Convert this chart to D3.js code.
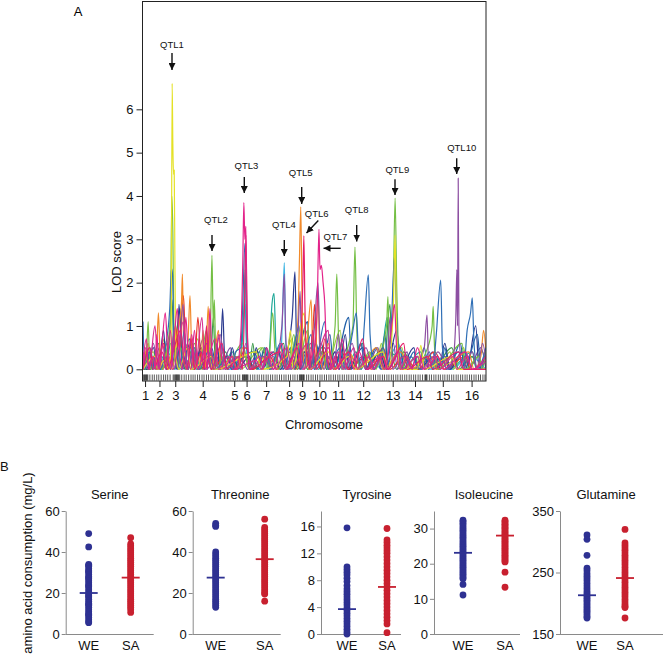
<!DOCTYPE html>
<html><head><meta charset="utf-8">
<script src="https://cdn.jsdelivr.net/npm/d3@7"></script>
<style>body{margin:0;background:#fff} svg{display:block;font-family:"Liberation Sans",Arial,sans-serif}</style>
</head><body><svg id="c" width="665" height="657"></svg>
<script>
// ---------- Panel A data (genome position 0-1000, LOD) ----------
const chrPositions = [6,48,94,174,266,302,359,426,464,514,569,642,728,793,874,958];
const chrLabels = ["1","2","3","4","5","6","7","8","9","10","11","12","13","14","15","16"];
const lodTicks = [0,1,2,3,4,5,6];
const markers = [2,4,6,8,10,12,14,20,27,33,40,46,53,60,66,72,79,88,91,94,96,98,100,102,104,107,113,120,126,133,140,146,152,159,165,172,178,185,191,198,204,211,217,224,230,237,243,250,256,263,269,276,282,290,292,294,296,298,300,302,304,306,313,320,326,333,339,346,352,359,365,372,378,385,391,398,404,411,417,424,430,437,443,450,456,458,460,462,464,466,468,470,477,483,490,496,503,509,516,522,529,535,542,548,555,561,568,574,581,587,594,600,607,613,620,626,633,639,646,652,659,665,672,678,685,691,698,704,711,717,724,730,737,743,750,756,763,769,776,782,789,795,802,808,815,822,824,826,828,835,841,848,854,861,867,874,880,887,893,900,906,913,919,926,932,939,945,952,958,965,971,978,984,991,997];

const cyanLOD = [[0,0],[25,0.3],[50,0],[85,0.4],[100,0],[150,0.3],[175,0],[210,0.3],[250,0],[285,0.4],[298,1.5],[303,0.3],[340,0],[380,0.3],[400,0],[407,1.3],[412,2.46],[416,0.6],[430,0],[470,0.4],[500,0],[550,0.3],[600,0],[650,0.3],[700,0],[745,0.6],[760,0],[800,0.3],[840,0],[880,0.3],[900,0],[950,0.3],[1000,0]];
const tealLOD = [[0,0],[20,0.5],[35,0],[55,0.3],[68,0],[80,0.6],[92,0],[120,0.3],[132,0],[145,0.6],[155,0],[190,0.3],[200,0],[215,0.5],[230,0],[260,0.4],[280,0],[293,1.2],[298,2.3],[302,0.6],[320,0],[350,0.3],[362,0],[370,0.6],[376,1.5],[382,1.75],[388,0.5],[400,0.3],[420,0],[450,0.8],[458,0],[490,0.5],[510,0],[550,0.3],[562,0],[580,0.6],[595,0],[620,0.4],[635,0],[660,0.3],[672,0],[700,0.6],[712,1.2],[718,0.4],[740,0.3],[755,0],[810,0.4],[822,0],[880,0.3],[892,0],[960,0.4],[972,0],[1000,0]];
const oliveLOD = [[0,0],[30,0.4],[42,0],[62,0.7],[72,0],[95,0.6],[104,0],[128,0.5],[138,0],[160,0.7],[170,0],[195,0.5],[205,0],[235,0.4],[245,0],[275,0.3],[285,0],[345,0.5],[355,0],[390,0.3],[400,0],[435,0.7],[445,0],[470,0.5],[480,0],[525,0.4],[535,0],[575,0.9],[585,0],[610,0.3],[620,0],[670,0.4],[680,0],[695,0.6],[705,0],[755,0.5],[765,0],[795,0.3],[805,0],[855,0.3],[862,0],[895,0.4],[905,0],[935,0.5],[945,0],[990,0.4],[1000,0]];
const darkGreenLOD = [[0,0],[20,0],[45,0.6],[55,0],[75,0.5],[85,1.6],[90,0.4],[108,1.4],[113,0.3],[125,0],[140,0.4],[160,0],[198,0.3],[205,1.2],[210,0.3],[222,0],[240,0.4],[260,0],[300,0.3],[310,0],[320,0.6],[330,0],[360,0.5],[370,0],[410,0.6],[420,0],[460,0.4],[480,0],[520,0.5],[540,0],[580,0.3],[600,0],[640,0.6],[650,0],[690,0.4],[702,0],[720,1.5],[725,0.5],[740,0],[760,0.4],[790,0],[830,0.3],[845,0],[900,0.5],[920,0],[960,0.3],[975,0],[1000,0]];
const violetLOD = [[0,0],[18,0.4],[28,0],[48,0.5],[58,0],[75,0.3],[85,0],[140,0.5],[150,0],[175,0.7],[185,0],[215,0.3],[225,0],[255,0.5],[265,0],[290,0.2],[305,0],[335,0.4],[345,0],[365,0.3],[375,0],[395,0.5],[405,0],[440,0.3],[450,0],[490,0.6],[500,0],[530,0.5],[540,0],[560,0.4],[572,0],[595,0.5],[605,0],[640,0.3],[650,0],[685,0.5],[695,0],[730,0.6],[742,0],[770,0.4],[780,0],[800,0.3],[812,0],[845,0.4],[855,0],[880,0.3],[892,0],[940,0.4],[950,0],[985,0.5],[1000,0]];
const navyLOD = [[0,0.4],[10,0],[30,0.5],[45,0],[60,0.9],[68,0],[90,0.5],[98,0],[105,1.5],[112,0.4],[120,0],[130,0.6],[145,0],[170,0.5],[180,0],[200,0.4],[207,0],[215,0.6],[225,0],[232,1.4],[238,0.3],[248,0],[260,0.5],[275,0],[310,0.3],[320,0],[330,0.5],[345,0],[380,0.4],[400,0],[425,0.6],[435,1.2],[443,2.25],[448,0.5],[458,0],[470,0.4],[490,0],[520,0.6],[535,0],[560,0.4],[572,0],[590,0.8],[600,0],[640,0.5],[655,0],[690,0.4],[710,0],[740,0.9],[750,0],[790,0.5],[800,0],[850,0.3],[862,0],[880,0.6],[895,0],[930,0.4],[945,0],[970,1.0],[980,0],[1000,0.4]];
const redLOD = [[0,0],[25,0.3],[40,0],[60,0.6],[75,0],[95,1.0],[105,0.3],[118,1.7],[124,0.5],[132,0],[140,0.4],[150,0],[160,1.2],[168,0.3],[175,0],[185,0.6],[200,0],[240,0.3],[270,0],[300,0.5],[320,0],[370,0.3],[390,0],[430,0.4],[445,0],[470,0.9],[480,0.3],[490,0],[500,1.5],[507,0.4],[518,0],[530,0.7],[545,0],[580,0.4],[600,0],[650,0.3],[665,0],[700,0.5],[720,0],[760,0.3],[800,0],[850,0.4],[880,0],[940,0.3],[955,0],[1000,0]];
const blue2LOD = [[0,0],[12,0.45],[22,0],[38,0.3],[52,0],[70,0.6],[80,0],[100,0.5],[112,0],[135,0.7],[148,0],[168,0.4],[180,0],[200,0.5],[215,0],[245,0.3],[258,0],[280,0.2],[320,0.4],[335,0],[355,0.5],[368,0],[395,0.4],[410,0],[430,0.5],[440,0],[480,1.1],[486,0],[505,0.6],[520,0],[545,0.8],[556,0],[600,1.2],[608,0],[635,0.6],[648,0],[680,0.5],[692,0],[705,0.8],[715,0],[750,0.5],[762,0],[790,0.4],[800,0],[820,0.5],[832,0],[855,0.3],[868,0],[880,0.5],[892,0],[925,0.6],[938,0],[975,0.8],[985,0],[1000,0.3]];
const orangeLOD = [[0,0],[15,0.6],[25,0],[40,0.5],[45,1.3],[50,0.3],[58,0],[70,0.4],[85,0],[100,0.8],[112,1.5],[115,2.2],[118,0.8],[130,0.5],[137,1.7],[142,0.4],[150,0],[160,0.3],[168,0],[175,0.9],[182,0],[190,1.45],[196,0.3],[203,0],[210,0.4],[220,0.9],[227,0],[260,0.3],[275,0],[290,0.5],[310,0],[360,0.3],[372,0],[400,0.5],[420,0],[445,0.6],[452,1.2],[456,2.5],[460,3.75],[463,2.0],[466,0.5],[472,0],[480,0.8],[490,1.6],[495,0.4],[502,0],[510,1.8],[515,0.5],[525,0],[540,0.6],[555,0],[600,0.4],[630,0],[680,0.5],[700,0],[750,0.4],[780,0],[840,0.3],[855,0],[950,0.4],[965,0],[985,0.3],[993,0.9],[1000,0.4]];
const greenLOD = [[0,0.3],[8,0],[15,1.1],[20,0],[40,0.4],[55,0],[70,0.5],[80,1.2],[84,4.0],[87,3.2],[90,1.0],[95,0.3],[102,0],[110,0.5],[125,0],[150,0.6],[165,0],[185,0.9],[195,0.3],[201,2.63],[205,1.0],[208,1.6],[212,0.4],[220,0],[230,0.3],[240,0],[290,0.6],[310,0],[350,0.5],[365,0],[378,1.3],[385,0.4],[395,0],[410,0.3],[420,0],[440,0.8],[450,0],[480,0.9],[490,0],[520,0.4],[540,0],[560,1.0],[565,2.2],[570,0.8],[580,0],[600,0.6],[612,1.0],[618,2.82],[623,1.0],[630,0],[660,0.4],[675,0],[710,1.0],[714,1.68],[718,0.6],[728,1.2],[735,3.95],[740,1.8],[745,0.5],[755,0],[770,0.3],[785,0],[830,0.5],[843,1.0],[846,1.45],[850,0.5],[860,0],[930,0.6],[940,0],[980,0.3],[990,0],[1000,0.5]];
const blueLOD = [[0,1.1],[5,0],[20,0.4],[28,0],[35,0.3],[50,0],[65,0.5],[78,1.4],[83,2.33],[86,2.2],[90,0.8],[100,0.3],[108,0],[120,0.9],[130,0],[150,0.5],[165,0],[190,0.4],[210,0],[250,0.3],[262,0],[270,0.4],[285,0.5],[292,1.8],[297,2.9],[300,2.5],[304,0.8],[312,0],[340,0.4],[350,0],[360,0.5],[372,0],[400,0.6],[420,0],[440,0.5],[455,1.0],[462,0],[490,0.8],[500,0],[530,1.1],[540,0],[575,0.5],[590,0],[610,0.8],[622,1.3],[628,0.4],[636,0],[645,1.0],[657,2.18],[662,0.8],[675,0],[700,0.5],[712,0],[725,1.2],[733,2.6],[738,1.5],[745,0.4],[760,0],[780,0.3],[810,0],[835,0.4],[845,0],[855,0.8],[868,2.06],[873,0.5],[885,0],[920,0.4],[935,0],[945,0.9],[955,1.3],[960,1.65],[965,0.6],[975,0],[1000,0.5]];
const purpleLOD = [[0,0.3],[15,0],[30,0.6],[45,0],[70,0.3],[80,0],[90,0.9],[100,0],[117,1.5],[122,0.4],[132,0],[145,0.5],[160,0],[185,0.6],[200,0],[225,0.8],[240,0],[270,0.3],[285,0],[300,0.6],[315,0],[350,0.3],[380,0],[405,1.0],[412,2.2],[416,0.8],[425,0],[450,0.5],[458,1.8],[462,0.5],[470,0],[480,0.4],[490,0],[500,1.0],[510,2.0],[516,0.6],[528,0],[540,0.3],[555,0],[570,0.8],[580,0],[610,0.6],[625,0],[650,0.5],[670,0],[700,0.4],[710,0],[720,1.2],[728,0],[760,0.3],[790,0],[820,0.5],[828,1.25],[833,0],[860,0.4],[890,0],[905,0.3],[912,1.2],[915,2.3],[917,1.0],[919,4.41],[921,1.0],[930,0],[960,0.4],[975,0],[990,0.6],[1000,0.2]];
const yellowLOD = [[0,0],[35,0.3],[45,0],[60,0.2],[75,0],[82,0.6],[85,6.6],[87,5.2],[89,4.5],[91,4.6],[93,2.5],[96,0.3],[105,0],[130,0.5],[140,0],[200,0.3],[210,0],[330,0.4],[345,0],[420,0.3],[430,0.9],[437,0],[470,1.3],[476,0.3],[485,0],[540,0.4],[560,0],[600,0.3],[620,0],[700,0.4],[715,0],[730,1.5],[735,3.1],[739,1.0],[750,0],[800,0],[810,0.55],[820,0],[900,0.3],[915,0],[1000,0]];
const pinkLOD = [[0,0],[8,0.5],[18,0],[35,1.0],[44,0],[58,0.6],[66,0],[80,0.9],[88,0],[118,1.1],[128,0],[142,0.8],[152,0],[172,1.2],[180,0],[210,0.7],[220,0],[250,0.3],[262,0],[330,0.2],[345,0],[375,0.4],[385,0],[420,0.5],[432,0],[480,0.6],[490,0],[540,0.9],[548,0],[570,0.4],[585,0],[615,0.5],[625,0],[660,0.3],[672,0],[700,0.3],[712,0],[745,0.4],[755,0],[800,0.3],[815,0],[850,0.3],[865,0],[905,0.3],[915,0],[945,0.3],[960,0],[1000,0.2]];
const deepPinkLOD = [[0,0],[20,0.5],[30,0],[55,0.4],[70,0],[110,0.9],[118,0.3],[128,0],[140,0.7],[150,0],[170,0.4],[178,0],[185,1.0],[190,0.3],[198,0],[230,0.6],[245,0],[280,0.3],[290,0],[296,1.5],[300,3.1],[304,1.0],[310,0],[400,0.4],[415,0],[450,0.5],[458,0],[462,1.0],[466,2.0],[469,3.08],[472,1.5],[476,0.4],[485,0],[495,0.9],[505,0],[540,0.5],[560,0],[600,0.4],[615,0],[640,0.7],[655,0],[700,0.3],[715,0],[760,0.6],[770,0],[830,0.3],[845,0],[920,0.4],[935,0],[1000,0]];
const magentaLOD = [[0,0.2],[10,0.7],[16,0],[30,0.3],[36,0],[40,0.8],[48,0],[65,1.3],[72,0.4],[80,0],[90,0.6],[100,1.4],[106,0.5],[115,0],[125,1.2],[132,0.3],[140,0],[150,0.9],[160,0],[180,0.4],[188,0],[195,1.4],[201,0.3],[210,0],[220,0.8],[235,0],[260,0.3],[272,0],[285,0.8],[291,2.5],[294,3.85],[297,3.0],[300,3.3],[303,1.0],[310,0],[340,0.3],[350,0],[360,0.5],[380,0],[405,0.6],[420,0],[455,0.6],[465,0],[500,0.5],[508,1.5],[513,3.23],[516,2.3],[520,2.4],[525,2.0],[530,1.5],[535,0.4],[545,0],[560,0.3],[570,0],[580,0.7],[595,0],[630,0.4],[650,0],[690,0.3],[705,0],[725,1.0],[733,1.5],[740,0.4],[750,0],[770,0.3],[785,0],[800,0.5],[820,0],[860,0.3],[875,0],[940,0.4],[960,0],[1000,0.3]];

const lodSeries = [
  {values: cyanLOD, color: "#3ab3e2"},
  {values: tealLOD, color: "#1fa898"},
  {values: oliveLOD, color: "#9ccc3c"},
  {values: darkGreenLOD, color: "#3a9a4a"},
  {values: violetLOD, color: "#7b4aa0"},
  {values: navyLOD, color: "#2b3a8f"},
  {values: redLOD, color: "#e8352b"},
  {values: blue2LOD, color: "#1f5fa8"},
  {values: orangeLOD, color: "#f18a2b"},
  {values: greenLOD, color: "#74bf44"},
  {values: blueLOD, color: "#2f6fb6"},
  {values: purpleLOD, color: "#8d4fa2"},
  {values: yellowLOD, color: "#e4e125"},
  {values: pinkLOD, color: "#d6308f"},
  {values: deepPinkLOD, color: "#e61e6a"},
  {values: magentaLOD, color: "#e3238a"}
];

const qtlNames = ["QTL1","QTL2","QTL3","QTL4","QTL5","QTL6","QTL7","QTL8","QTL9","QTL10"];

// ---------- Panel B data ----------
const aminoAcids = ["Serine","Threonine","Tyrosine","Isoleucine","Glutamine"];
const groups = ["WE","SA"];
const serineWE = [49,42.5,34,33.5,33,32,31,30.5,30,29,28,27.5,27,26,25,24,23.5,23,22,21,20,19,18.5,18,17,16,15,14.5,14,13,12,11,10,9.5,9,8,7,6,5.5];
const serineSA = [47,44,43,42,41,40,39,38,37,36,35,34,33,32,31,30,29,28,27,26,25,24,23,22,21,20,19,18,17,16,15,14,13,12,10.5];
const threonineWE = [54,53,52.5,40,39,38,37,36,35,34,33,32,31,30,29,28,27,26,25,24,23,22,21,20,19,18,17,16,15,14,13];
const threonineSA = [56,52,51,50,49,48,47,46,45,44,43,42,41,40,39,38,37,36,35,34,33,32,31,30,29,28,27,26,25,24,23,22,21,20,19.5,16];
const tyrosineWE = [15.8,10,9.6,9.2,8.8,8.3,7.8,7.2,6.7,6.3,5.9,5.5,5.1,4.7,4.3,3.9,3.5,3.1,2.7,2.3,1.9,1.5,1.1,0.7,0.3,0];
const tyrosineSA = [15.7,14,13.6,13.2,12.8,12.4,12,11.5,11,10.5,10,9.5,9,8.5,8,7.5,7,6.5,6,5.5,5,4.5,4,3.5,3,2.5,2,1.5,0.2];
const isoleucineWE = [32.4,32,31.5,31,30.5,30,29.5,29,28.5,28,27.5,27,26.5,26,25.5,25,24.5,24,23.5,23,22.5,22,21.5,21,20.5,20,19.5,19,18.5,18,17.5,17,16.5,16,15.7,14.1,11.1];
const isoleucineSA = [32.4,32,31.6,31.2,30.8,30.4,30,29.6,29.2,28.8,28.4,28,27.6,27.2,26.8,26.4,26,25.6,25.2,24.8,24.4,24,23.6,23.2,22.8,22.4,22,21.6,21.2,20.8,20.5,17.6,13.3];
const glutamineWE = [311,304,278,257,253,248,244,240,236,232,228,224,220,217,214,211,208,205,202,199,196,193,190,187,184,181,178,176];
const glutamineSA = [320,298,294,290,286,282,278,274,270,266,262,258,254,250,246,242,238,234,230,226,222,218,214,210,206,202,198,195,193,176];
const meansWE = [20,27.5,3.7,23.1,213];
const meansSA = [27.5,36.5,7.0,28,241];
const yDomains = [[0,60],[0,60],[0,18.3],[0,35],[150,350]];
const yTickValues = [[0,20,40,60],[0,20,40,60],[0,4,8,12,16],[0,10,20,30],[150,250,350]];

const panelData = [
  [serineWE, serineSA],[threonineWE, threonineSA],[tyrosineWE, tyrosineSA],
  [isoleucineWE, isoleucineSA],[glutamineWE, glutamineSA]
];

// ---------- Drawing ----------
const svg = d3.select("#c");
const FONT = 13;
const FAM = "Liberation Sans, Arial, sans-serif";

// Panel A
const pLeft = 142.5, pRight = 486, pTop = 1.5, pBottom = 381;
const x = d3.scaleLinear().domain([0,1000]).range([143,486]);
const y = d3.scaleLinear().domain([0,8.5]).range([369.3,1]);

svg.append("text").attr("x",78).attr("y",16).attr("text-anchor","middle").attr("font-size",FONT).text("A");

const defs = svg.append("defs");
defs.append("clipPath").attr("id","plotclip")
  .append("rect").attr("x",pLeft).attr("y",pTop).attr("width",pRight-pLeft).attr("height",372-pTop);
const line = d3.line().x(d => x(d[0])).y(d => y(d[1])).curve(d3.curveMonotoneX);
const gl = svg.append("g").attr("clip-path","url(#plotclip)");
lodSeries.forEach(s => {
  gl.append("path").attr("d", line(s.values)).attr("fill","none")
    .attr("stroke", s.color).attr("stroke-width",1.2).attr("stroke-linejoin","round");
});

// marker strip
const gm = svg.append("g");
gm.selectAll("line").data(markers).join("line")
  .attr("x1", d => x(d)).attr("x2", d => x(d)).attr("y1",374.5).attr("y2",380.5)
  .attr("stroke","#111").attr("stroke-width",0.7);

// frame
svg.append("rect").attr("x",pLeft).attr("y",pTop).attr("width",pRight-pLeft).attr("height",pBottom-pTop)
  .attr("fill","none").attr("stroke","#222").attr("stroke-width",1);

// y axis
const yAxisG = svg.append("g").attr("transform",`translate(${pLeft},0)`)
  .call(d3.axisLeft(y).tickValues(lodTicks).tickSize(6).tickPadding(3).tickFormat(d3.format("d")));
yAxisG.select(".domain").remove();
yAxisG.selectAll("text").attr("font-size",FONT).attr("font-family",FAM).attr("fill","#111");
yAxisG.selectAll("line").attr("stroke","#222");

svg.append("text").attr("transform","translate(121,262) rotate(-90)").attr("text-anchor","middle")
  .attr("font-size",FONT).attr("fill","#111").text("LOD score");

// x axis (chromosomes)
const xAxisG = svg.append("g").attr("transform",`translate(0,${pBottom})`)
  .call(d3.axisBottom(x).tickValues(chrPositions).tickSize(6).tickPadding(4).tickFormat((d,i) => chrLabels[i]));
xAxisG.select(".domain").remove();
xAxisG.selectAll("text").attr("font-size",FONT).attr("font-family",FAM).attr("fill","#111");
xAxisG.selectAll("line").attr("stroke","#222");
svg.append("text").attr("x",324).attr("y",428.5).attr("text-anchor","middle").attr("font-size",FONT).attr("fill","#111").text("Chromosome");

// QTL annotations (layout positions in pixels)
const qtlLayout = [
  {tx:172, ty:44.3, x1:172, y1:53, x2:172, y2:70},
  {tx:216, ty:220, x1:212, y1:235, x2:212, y2:251},
  {tx:246.5, ty:165.7, x1:244.3, y1:177, x2:244.3, y2:193},
  {tx:284, ty:224.3, x1:284.3, y1:240, x2:284.3, y2:256},
  {tx:300.7, ty:172.7, x1:301.7, y1:187, x2:301.7, y2:204},
  {tx:316.7, ty:213.3, x1:318.3, y1:220.5, x2:306.5, y2:233},
  {tx:335.5, ty:236.5, x1:340.7, y1:248.3, x2:323.5, y2:248.3},
  {tx:356.7, ty:210, x1:356.7, y1:225, x2:356.7, y2:241.5},
  {tx:397.3, ty:169.3, x1:395, y1:179.3, x2:395, y2:195},
  {tx:461.7, ty:147.3, x1:456.7, y1:158.3, x2:456.7, y2:174}
];
defs.append("marker").attr("id","ah").attr("viewBox","0 0 10 10")
  .attr("refX",10).attr("refY",5).attr("markerWidth",7).attr("markerHeight",7)
  .attr("markerUnits","userSpaceOnUse").attr("orient","auto")
  .append("path").attr("d","M0,0 L10,5 L0,10 z").attr("fill","#111");
const ga = svg.append("g");
qtlNames.forEach((name,i) => {
  const L = qtlLayout[i];
  ga.append("text").attr("x",L.tx).attr("y",L.ty).attr("dy","0.35em").attr("text-anchor","middle")
    .attr("font-size",9.5).attr("fill","#111").text(name);
  ga.append("line").attr("x1",L.x1).attr("y1",L.y1).attr("x2",L.x2).attr("y2",L.y2)
    .attr("stroke","#111").attr("stroke-width",1.4).attr("marker-end","url(#ah)");
});

// Panel B
svg.append("text").attr("x",0).attr("y",471).attr("font-size",FONT).attr("fill","#111").text("B");
svg.append("text").attr("transform","translate(32,563) rotate(-90)").attr("text-anchor","middle")
  .attr("font-size",FONT).attr("fill","#111").text("amino acid consumption (mg/L)");

const axisXs = [65.7,192.7,321,434,560];
const axisLens = [88,88,80,86,103];
const catOffsets = [[23,65],[23,72],[26,66],[29,71],[27,65]];
const yBottom = 634, yTop = 511;
const colors = {WE:"#2e3192", SA:"#c8202f"};
const axisGray = "#8a8a8a";

aminoAcids.forEach((name,i) => {
  const ax = axisXs[i];
  const yS = d3.scaleLinear().domain(yDomains[i]).range([yBottom,yTop]);
  const xS = d3.scaleOrdinal().domain(groups).range([ax+catOffsets[i][0], ax+catOffsets[i][1]]);
  const g = svg.append("g");
  g.append("text").attr("x", (xS("WE")+xS("SA"))/2).attr("y",498.5).attr("text-anchor","middle")
    .attr("font-size",FONT).attr("fill","#111").text(name);
  const ya = g.append("g").attr("transform",`translate(${ax},0)`)
    .call(d3.axisLeft(yS).tickValues(yTickValues[i]).tickSize(4).tickSizeOuter(0).tickPadding(2));
  ya.select(".domain").attr("stroke",axisGray);
  ya.selectAll("line").attr("stroke",axisGray);
  ya.selectAll("text").attr("font-size",FONT).attr("font-family",FAM).attr("fill","#111");
  g.append("line").attr("x1",ax).attr("x2",ax+axisLens[i]).attr("y1",yBottom+0.5).attr("y2",yBottom+0.5)
    .attr("stroke",axisGray).attr("stroke-width",1);
  groups.forEach((grp,j) => {
    g.append("text").attr("x",xS(grp)).attr("y",650).attr("text-anchor","middle")
      .attr("font-size",FONT).attr("fill","#111").text(grp);
    g.selectAll(null).data(panelData[i][j]).join("circle")
      .attr("cx", xS(grp)).attr("cy", d => yS(d)).attr("r",3.4).attr("fill",colors[grp]);
    const m = j === 0 ? meansWE[i] : meansSA[i];
    g.append("line").attr("x1",xS(grp)-9).attr("x2",xS(grp)+9).attr("y1",yS(m)).attr("y2",yS(m))
      .attr("stroke",colors[grp]).attr("stroke-width",1.8);
  });
});
</script>
</body></html>
